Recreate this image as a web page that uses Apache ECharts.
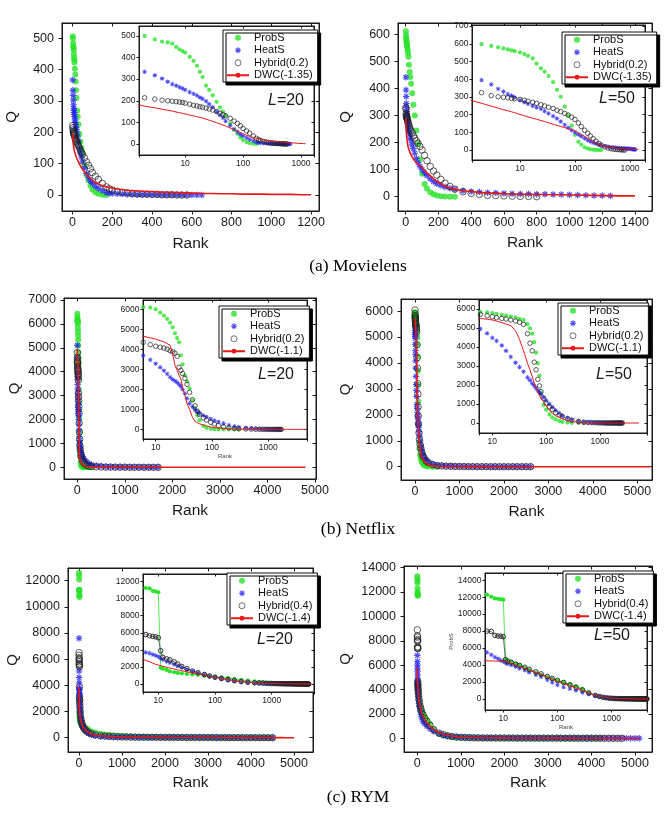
<!DOCTYPE html>
<html>
<head>
<meta charset="utf-8">
<title>Q vs Rank</title>
<script src="https://cdn.jsdelivr.net/npm/echarts@6.0.0/dist/echarts.min.js"></script>
<style>
  html, body { margin: 0; padding: 0; background: #fff; }
  #chart { width: 665px; height: 814px; }
</style>
</head>
<body>
<div id="chart"></div>
<script>
// ---- data read off the figure: sampled ranks and Q for each method ----
// (a) Movielens, L=20
var rankML20 = [1,2,3,4,5,6,7,8,9,10,12,14,16,18,20,23,26,30,35,40,45,50,60,70,80,90,100,115,130,150,170,185,200,225,250,275,300,325,350,375,400,425,450,475,500,525,550,575,600,625,650,700,750,800,850,900,950,1000,1050,1100,1150,1200];
var probML20 = [506,500,484,474,470,464,449,438,430,423,403,385,362,334,310,270,250,225,195,170,150,132,95,65,47,30,18,9,4,1,0];
var heatML20 = [367,334,318,303,288,277,270,263,257,250,240,232,225,215,209,198,185,170,149,134,121,106,86,69,56,45,37,28,21,14,8,6,5,4,3,2,2,1,1,1,1,1,0,0,0,0,0,0,0,0,0];
var hybML20  = [222,214,208,203,200,198,196,194,192,189,184,179,176,172,170,166,162,157,150,142,136,130,119,106,95,84,72,60,50,37,26,20,16,12,9,7,5,4,3,3,2,2,1,1,1,0,0,0];
var dwcML20  = [195,175,167,161,156,152,148,145,142,139,134,130,126,123,120,115,110,105,98,93,88,83,74,66,59,53,47,40,35,30,26,24,22,19,17,15,14,13,12,11,11,10,9,9,8,8,7,7,6,6,5,5,4,4,3,3,3,2,2,2,1,1];

// (a) Movielens, L=50
var rankML50 = [1,2,3,4,5,6,7,8,10,12,14,17,20,24,28,33,40,47,55,65,75,87,100,115,130,150,170,190,215,240,270,300,350,400,450,500,550,600,650,700,750,800,850,900,950,1000,1050,1100,1150,1200,1250,1300,1350,1400];
var probML50 = [612,598,588,580,574,568,563,558,552,542,532,518,488,462,443,418,383,340,301,245,195,138,85,47,30,16,9,4,2,1,0,0];
var heatML50 = [442,395,371,345,330,316,308,298,282,270,261,250,241,232,220,207,192,178,161,142,126,112,100,88,78,66,56,48,41,36,31,27,22,19,17,15,14,12,11,10,10,9,9,8,8,7,6,5,4,4,3];
var hybML50  = [330,324,307,301,298,295,292,290,286,281,276,270,264,256,249,242,235,225,217,207,198,186,173,153,133,112,95,80,64,50,38,28,18,12,8,5,4,3,2,1,1,0];
var dwcML50  = [290,264,248,237,228,222,216,211,201,194,187,180,174,167,161,154,146,139,133,127,121,116,108,98,88,78,66,57,47,39,32,27,22,19,16,14,13,11,10,9,9,8,8,7,7,6,6,5,5,4,4,3,3,3];

// (b) Netflix, L=20
var rankNF20 = [1,2,3,4,5,6,8,10,12,14,16,18,20,22,24,26,28,30,33,36,40,45,50,55,60,70,80,95,110,130,160,200,250,300,400,500,600,700,800,900,1000,1100,1200,1300,1400,1500,1600,1700,1800,1900,2000,2100,2200,2300,2400,2500,2600,2700,2800,2900,3000,3100,3200,3300,3400,3500,3600,3700,3800,3900,4000,4100,4200,4300,4400,4500,4600,4700,4800];
var probNF20 = [6430,6300,6200,6150,6120,6100,6080,6000,5830,5680,5520,5335,5100,4800,4560,4350,3700,3250,2700,2400,2050,1450,1060,700,450,180,80,30,10,0,0,0,0,0];
var heatNF20 = [5100,4600,4200,3950,3800,3685,3470,3280,3100,2930,2770,2610,2500,2420,2350,2250,2150,2000,1800,1550,1300,1120,980,880,810,700,620,520,440,370,300,210,150,110,70,50,35,25,15,12,8,6,4,3,2,2,1,0];
var hybNF20  = [4800,4600,4500,4420,4380,4343,4230,4150,4100,4060,4000,3930,3870,3800,3650,3100,2950,2790,2550,2250,1850,1480,1180,900,760,580,470,350,270,190,130,80,50,35,22,15,8,6,4,3,2,1,1,0,0,0,0,0];
var dwcNF20  = [4950,4850,4780,4720,4680,4650,4570,4510,4430,4370,4280,4200,3750,3200,2950,2700,2530,2100,1700,1300,1000,600,400,330,280,220,170,120,90,70,50,30,20,10,5,3,2,1,1,0,0,0,0,0,0,0,0,0,0,0,0,0,0,0,0,0,0,0,0,0,0,0,0,0,0,0,0,0,0,0,0,0,0,0,0,0,0,0,0];

// (b) Netflix, L=50
var rankNF50 = [1,2,3,4,5,6,8,10,12,15,18,22,27,32,38,45,50,55,60,65,70,75,80,90,100,115,130,150,175,200,250,300,400,500,600,700,800,900,1000,1100,1200,1300,1400,1500,1600,1700,1800,1900,2000,2100,2200,2300,2400,2500,2600,2700,2800,2900,3000,3100,3200,3300,3400,3500,3600,3700,3800,3900,4000,4100,4200,4300,4400,4500,4600,4700,4800,4900,5000,5100,5200,5300];
var probNF50 = [5950,5920,5900,5880,5860,5850,5820,5780,5735,5690,5650,5600,5550,5480,5420,5200,4980,4700,4250,3700,3150,2500,1600,950,700,450,300,190,110,60,25,10,0,0];
var heatNF50 = [5400,5250,5150,5080,5020,4950,4720,4480,4320,4080,3800,3480,3170,2940,2700,2400,2250,2080,1950,1840,1700,1600,1500,1350,1180,1000,830,670,520,380,270,180,100,60,45,30,25,20,15,12,9,5,4,3,3,2,2,2,2,1,1,1,0,0,0];
var hybNF50  = [6040,5900,5820,5770,5730,5710,5645,5590,5540,5500,5470,5420,5370,5300,5190,4700,4200,3800,3200,2800,2300,1950,1650,1300,1050,850,720,550,420,350,220,150,80,40,30,20,15,10,8,5,3,0,0,0,0,0,0,0,0,0,0,0,0,0,0];
var dwcNF50  = [5700,5620,5580,5550,5520,5500,5460,5420,5360,5280,5200,5130,4850,4400,3800,3150,2800,2450,2100,1850,1620,1450,1300,1100,900,680,520,380,300,220,130,80,40,20,15,10,8,6,5,4,3,2,2,1,1,0,0,0,0,0,0,0,0,0,0,0,0,0,0,0,0,0,0,0,0,0,0,0,0,0,0,0,0,0,0,0,0,0,0,0,0,0];

// (c) RYM, L=20
var rankRY20 = [1,2,3,4,5,6,7,8,9,10,11,12,14,16,19,22,26,32,40,50,65,80,100,130,170,220,290,380,500,600,700,800,900,1000,1100,1200,1300,1400,1500,1600,1700,1800,1900,2000,2100,2200,2300,2400,2500,2600,2700,2800,2900,3000,3100,3200,3300,3400,3500,3600,3700,3800,3900,4000,4100,4200,4300,4400,4500,4600,4700,4800,4900,5000];
var probRY20 = [12600,12400,12100,11300,11280,11250,11200,10900,10850,10750,1900,1800,1650,1480,1380,1300,1250,1180,1120,1080,980,900,850,780,720,600,480,390,300,250,220,180,150,130,115,100,90,80,70,60,50,45,40,35,32,30,27,25,22,20,15,13,11,9,7,5,4,3,2,1,0,0,0,0,0,0,0,0,0];
var heatRY20 = [7600,5100,4600,4200,3800,3700,3620,3450,3350,3200,3000,2850,2650,2500,2300,2100,1950,1700,1480,1300,1080,900,750,600,450,320,220,150,100,85,70,60,55,50,47,44,40,38,36,34,30,29,28,27,26,25,24,23,22,21,20,19,18,17,16,15,14,13,12,11,10,9,8,7,6,5,3,2,0];
var hybRY20  = [6500,6300,6100,6000,5930,5800,5650,5580,5530,5420,3900,3150,2950,2840,2600,2350,2060,1800,1520,1330,1120,950,800,650,520,400,300,220,150,125,100,85,70,60,55,48,40,37,34,32,30,27,25,23,21,20,19,18,17,16,15,14,13,12,11,10,9,8,7,6,5,4,3,2,2,1,1,0,0];
var dwcRY20  = [3900,3500,3250,3050,2900,2780,2600,2450,2300,2230,2150,2080,1970,1870,1760,1650,1560,1430,1320,1200,1040,900,780,640,510,390,290,210,150,125,100,85,75,65,58,50,45,40,37,33,30,28,25,23,21,20,19,17,16,16,15,14,13,12,11,10,10,9,9,8,8,7,7,6,6,5,5,4,3,3,2,1,1,0];

// (c) RYM, L=50
var rankRY50 = [1,2,3,4,5,6,7,8,9,10,11,12,14,17,20,25,30,40,50,65,80,100,130,170,220,290,380,500,600,700,800,900,1000,1100,1200,1300,1400,1500,1600,1700,1800,1900,2000,2100,2200,2300,2400,2500,2600,2700,2800,2900,3000,3100,3200,3300,3400,3500,3600,3700,3800,3900,4000,4100,4200,4300,4400,4500,4600,4700,4800,4900,5000,5100];
var probRY50 = [13300,13100,12900,12750,12300,12050,11850,11800,11750,11700,4600,4500,4350,4150,3950,3650,3400,3050,2800,2550,2350,2150,1950,1750,1500,1200,750,380,250,160,110,80,60,45,35,20,15,10,5,0,0,0,0,0,0,0,0,0,0,0,0,0,0,0,0,0,0,0,0,0,0,0,0,0,0];
var heatRY50 = [6800,6300,6000,5750,5500,5200,4930,4750,4550,4410,4250,4150,4000,3800,3600,3400,3150,2850,2600,2250,1950,1650,1400,1200,1000,780,560,380,280,200,150,115,90,80,70,60,55,50,47,45,43,40,38,36,35,34,33,32,31,30,29,28,27,26,25,24,23,22,21,20,19,18,17,16,15,14,13,12,11,10,8,7,6,5];
var hybRY50  = [8900,8400,8300,8100,8000,7960,7500,7420,7400,7350,4650,4450,4330,4100,3950,3740,3500,3200,2960,2650,2420,2200,1950,1650,1380,1050,700,420,300,200,140,100,80,65,55,40,35,30,28,25,22,20,18,17,15,14,13,12,11,10,10,9,9,8,8,7,7,6,6,5,5,4,4,3,3,2,2,1,1,0];
var dwcRY50  = [5800,5200,4850,4550,4500,4480,4470,4460,4450,4440,4400,4350,4200,4000,3850,3600,3400,3100,2900,2600,2350,2050,1800,1550,1300,1000,700,450,330,250,180,130,100,85,70,60,55,50,45,40,37,34,32,30,28,26,24,22,21,20,19,18,17,16,15,14,13,12,11,10,9,8,7,6,5,5,4,4,3,3,2,1,1,0];

// tick labels
var ticksML20X = [0, 200, 400, 600, 800, 1000, 1200];
var ticksML20Y = [0, 100, 200, 300, 400, 500];
var ticksML50X = [0, 200, 400, 600, 800, 1000, 1200, 1400];
var ticksML50Y = [0, 100, 200, 300, 400, 500, 600];
var ticksML50Inset = [0, 100, 200, 300, 400, 500, 600, 700];
var ticksBigX = [0, 1000, 2000, 3000, 4000, 5000];
var ticksNF20Y = [0, 1000, 2000, 3000, 4000, 5000, 6000, 7000];
var ticksNFY = [0, 1000, 2000, 3000, 4000, 5000, 6000];
var ticksRY20Y = [0, 2000, 4000, 6000, 8000, 10000, 12000];
var ticksRY50Y = [0, 2000, 4000, 6000, 8000, 10000, 12000, 14000];

var namesML = ['ProbS', 'HeatS', 'Hybrid(0.2)', 'DWC(-1.35)'];
var namesNF = ['ProbS', 'HeatS', 'Hybrid(0.2)', 'DWC(-1.1)'];
var namesRY = ['ProbS', 'HeatS', 'Hybrid(0.4)', 'DWC(-1.4)'];

// ---- layout of the six panels ----
var panels = [
  { r: rankML20, s: [probML20, heatML20, hybML20, dwcML20], names: namesML, tag: '20',
    main: { box: [62, 23, 257, 188], x: [-53, 1240], y: [-51, 549], xt: ticksML20X, yt: ticksML20Y, qGap: 43, rGap: 25 },
    inset: { box: [139, 26, 175, 129], x: [1.6, 1676], y: [-51, 546], yt: ticksML20Y },
    legend: [223, 30], lab: [286, 101] },
  { r: rankML50, s: [probML50, heatML50, hybML50, dwcML50], names: namesML, tag: '50',
    main: { box: [398, 23, 254, 188], x: [-47, 1504], y: [-53, 643], xt: ticksML50X, yt: ticksML50Y, qGap: 45, rGap: 24 },
    inset: { box: [472, 25, 173, 135], x: [1.34, 1874], y: [-56, 706], yt: ticksML50Inset },
    legend: [562, 32], lab: [617, 99] },
  { r: rankNF20, s: [probNF20, heatNF20, hybNF20, dwcNF20], names: namesNF, tag: '20',
    main: { box: [64, 298, 252, 181], x: [-280, 5022], y: [-490, 7084], xt: ticksBigX, yt: ticksNF20Y, qGap: 42, rGap: 24 },
    inset: { box: [143, 300, 164, 139], x: [5.95, 4870], y: [-480, 6460], yt: ticksNFY, xName: 'Rank' },
    legend: [219, 306], lab: [276, 375] },
  { r: rankNF50, s: [probNF50, heatNF50, hybNF50, dwcNF50], names: namesNF, tag: '50',
    main: { box: [401, 299, 251, 181], x: [-315, 5330], y: [-513, 6465], xt: ticksBigX, yt: ticksNFY, qGap: 48, rGap: 24 },
    inset: { box: [479, 300, 168, 133], x: [5.66, 7460], y: [-525, 6470], yt: ticksNFY },
    legend: [558, 303], lab: [614, 375] },
  { r: rankRY20, s: [probRY20, heatRY20, hybRY20, dwcRY20], names: namesRY, tag: '20', joined: true,
    main: { box: [68, 568, 245, 184], x: [-256, 5442], y: [-1093, 12971], xt: ticksBigX, yt: ticksRY20Y, qGap: 48, rGap: 23 },
    inset: { box: [143, 574, 171, 118], x: [5.37, 5570], y: [-935, 12890], yt: ticksRY20Y },
    legend: [227, 573], lab: [275, 640] },
  { r: rankRY50, s: [probRY50, heatRY50, hybRY50, dwcRY50], names: namesRY, tag: '50', joined: true,
    main: { box: [404, 566, 248, 186], x: [-306, 5392], y: [-1124, 14134], xt: ticksBigX, yt: ticksRY50Y, qGap: 51, rGap: 23 },
    inset: { box: [485, 573, 162, 137], x: [4.6, 4500], y: [-1300, 14850], yt: ticksRY50Y, xName: 'Rank', yName: 'ProbS' },
    legend: [563, 571], lab: [612, 636] }
];

var FONT = '"Liberation Sans", Arial, sans-serif';
var SERIF = '"Liberation Serif", "Times New Roman", serif';
var INK = '#1a1a1a';
var GREEN = '#2be22b', BLUE = '#2020f0', BLACK = '#222', RED = '#e81818';
var STAR = 'path://M8.25,0L11.75,0L11.75,20L8.25,20Z M0,8.25L20,8.25L20,11.75L0,11.75Z M1.76,4.24L4.24,1.76L18.24,15.76L15.76,18.24Z M15.76,1.76L18.24,4.24L4.24,18.24L1.76,15.76Z';

function pairs(ranks, vals) {
  return vals.map(function (v, i) { return [ranks[i], v]; });
}
function fmt(v) { return String(v); }
function fmtLog(v) {
  var l = Math.log(v) / Math.LN10;
  return Math.abs(l - Math.round(l)) < 1e-6 ? String(Math.round(v)) : '';
}

var grids = [], xAxes = [], yAxes = [], series = [], legends = [], graphics = [];

function axis(gi, type, range, ticks, pos, inset, z, mirror) {
  var a = {
    gridIndex: gi, type: type, min: range[0], max: range[1], position: pos, z: z,
    axisLine: { show: true, onZero: false, lineStyle: { color: INK, width: 1 } },
    splitLine: { show: false },
    axisTick: { show: true, inside: mirror, length: inset ? 2.5 : 3.5, lineStyle: { color: INK, width: 1 } },
    axisLabel: { show: !mirror, color: INK, fontFamily: FONT, fontSize: inset ? 8.5 : 12.5,
      margin: (pos === 'left' ? (inset ? 3.5 : 8) : (inset ? 4 : 5)) }
  };
  if (type === 'log') {
    a.logBase = 10;
    a.axisLabel.formatter = fmtLog;
  } else {
    a.axisTick.customValues = ticks;
    a.axisLabel.customValues = ticks;
    a.axisLabel.formatter = fmt;
  }
  return a;
}

panels.forEach(function (p) {
  [false, true].forEach(function (inset) {
    var c = inset ? p.inset : p.main;
    var gi = grids.length;
    grids.push({
      left: c.box[0], top: c.box[1], width: c.box[2], height: c.box[3],
      show: true, backgroundColor: inset ? '#fff' : 'transparent',
      borderColor: INK, borderWidth: 1, z: inset ? 5 : 0,
      containLabel: false, outerBoundsMode: 'none'
    });
    var xt = inset ? 'log' : 'value';
    var z = inset ? 6 : 1;
    var bx = axis(gi, xt, c.x, c.xt, 'bottom', inset, z, false);
    var ly = axis(gi, 'value', c.y, c.yt, 'left', inset, z, false);
    if (!inset) {
      bx.name = 'Rank'; bx.nameLocation = 'middle'; bx.nameGap = c.rGap;
      bx.nameTextStyle = { fontFamily: FONT, fontSize: 15.5, color: INK };
      ly.name = 'Q'; ly.nameLocation = 'middle'; ly.nameGap = c.qGap; ly.nameRotate = 90;
      ly.nameTextStyle = { fontFamily: FONT, fontSize: 15, color: INK };
    } else {
      if (c.xName) {
        bx.name = c.xName; bx.nameLocation = 'middle'; bx.nameGap = 13;
        bx.nameTextStyle = { fontFamily: FONT, fontSize: 6, color: '#444' };
      }
      if (c.yName) {
        ly.name = c.yName; ly.nameLocation = 'middle'; ly.nameGap = 30; ly.nameRotate = 90;
        ly.nameTextStyle = { fontFamily: FONT, fontSize: 6, color: '#444' };
      }
    }
    xAxes.push(bx, axis(gi, xt, c.x, c.xt, 'top', inset, z, true));
    yAxes.push(ly, axis(gi, 'value', c.y, c.yt, 'right', inset, z, true));

    var xi = 2 * gi, yi = 2 * gi;
    var k = inset ? 0.7 : 1;
    var zs = inset ? 7 : 2;
    var joined = inset && p.joined;
    var base = { xAxisIndex: xi, yAxisIndex: yi, clip: true, silent: true, animation: false };
    series.push(Object.assign({}, base, {
      name: p.names[0], type: joined ? 'line' : 'scatter', z: zs,
      data: pairs(p.r, p.s[0]), symbol: 'circle', symbolSize: 6 * k,
      showSymbol: true, showAllSymbol: true,
      itemStyle: { color: GREEN }, lineStyle: { color: GREEN, width: 0.8 }
    }));
    series.push(Object.assign({}, base, {
      name: p.names[1], type: 'scatter', z: zs,
      data: pairs(p.r, p.s[1]), symbol: STAR, symbolSize: 6.5 * k,
      itemStyle: { color: BLUE }
    }));
    series.push(Object.assign({}, base, {
      name: p.names[2], type: joined ? 'line' : 'scatter', z: zs,
      data: pairs(p.r, p.s[2]), symbol: 'circle', symbolSize: 6.5 * k,
      showSymbol: true, showAllSymbol: true,
      itemStyle: { color: 'rgba(0,0,0,0)', borderColor: BLACK, borderWidth: 0.9 },
      lineStyle: { color: '#445', width: 0.8 }
    }));
    series.push(Object.assign({}, base, {
      name: p.names[3], type: 'line', z: zs + 1,
      data: pairs(p.r, p.s[3]), symbol: 'circle', symbolSize: 3, showSymbol: false,
      itemStyle: { color: RED }, lineStyle: { color: RED, width: inset ? 1 : 1.6 }
    }));
  });

  legends.push({
    left: p.legend[0], top: p.legend[1], orient: 'vertical', data: p.names,
    selectedMode: false, itemWidth: 22, itemHeight: 6, itemGap: 1,
    padding: [2, 5, 1, 3], backgroundColor: '#fff', borderColor: '#111', borderWidth: 1,
    shadowColor: '#000', shadowBlur: 0, shadowOffsetX: 3, shadowOffsetY: 3, z: 20,
    itemStyle: { borderWidth: 0.8 },
    textStyle: { fontFamily: FONT, fontSize: 11, color: '#111', lineHeight: 11.5 }
  });

  graphics.push({
    type: 'text', x: p.lab[0], y: p.lab[1], z: 30,
    style: {
      text: '{i|L}{n|=' + p.tag + '}', align: 'center', verticalAlign: 'middle',
      rich: {
        i: { fontStyle: 'italic', fontSize: 16, fontFamily: FONT, fill: INK },
        n: { fontSize: 16, fontFamily: FONT, fill: INK }
      }
    }
  });
});

[['(a) Movielens', 266], ['(b) Netflix', 529], ['(c) RYM', 797]].forEach(function (cap) {
  graphics.push({
    type: 'text', x: 358, y: cap[1], z: 30,
    style: { text: cap[0], align: 'center', verticalAlign: 'middle',
      fontSize: 17.5, fontFamily: SERIF, fill: '#000' }
  });
});

var chart = echarts.init(document.getElementById('chart'), null, { renderer: 'canvas' });
chart.setOption({
  animation: false,
  backgroundColor: '#fff',
  textStyle: { fontFamily: FONT },
  grid: grids,
  xAxis: xAxes,
  yAxis: yAxes,
  legend: legends,
  graphic: graphics,
  series: series
});
</script>
</body>
</html>
